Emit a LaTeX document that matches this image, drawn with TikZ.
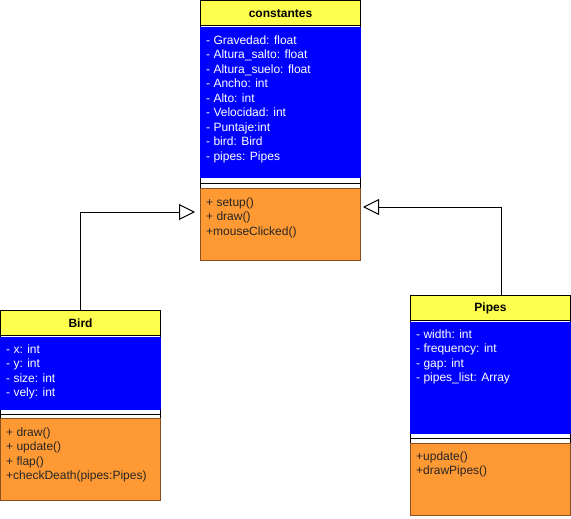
\documentclass[tikz,border=0pt]{standalone}
\usepackage{fontspec}
\setmainfont{Liberation Sans}
\usetikzlibrary{arrows.meta}
\definecolor{hdryellow}{HTML}{FFFF4D}
\definecolor{attrblue}{HTML}{0000FF}
\definecolor{opsorange}{HTML}{FF9933}
\definecolor{opsedge}{HTML}{8A4F1E}
\begin{document}
\begin{tikzpicture}[x=1pt,y=-1pt,
    outer/.style={draw=black,fill=white,line width=1pt},
    header/.style={draw=black,fill=hdryellow,line width=1pt,inner sep=0pt,
      minimum width=160pt,minimum height=25.5pt,font=\bfseries\fontsize{12pt}{14.5pt}\selectfont},
    attrfill/.style={fill=attrblue},
    sepline/.style={draw=black,line width=1pt},
    opsbox/.style={draw=opsedge,fill=opsorange,line width=1pt},
    members/.style={anchor=north west,inner sep=0pt,align=left,text=white,
      font=\fontsize{12pt}{14.5pt}\selectfont},
    ops/.style={members,text=black!85},
    inherit/.style={draw=black,line width=1pt,
      -{Triangle[open,length=16pt,width=16pt,fill=white]}}]
  \useasboundingbox (0,0) rectangle (571,519);
  % constantes
  \draw[outer] (200.5,0.5) rectangle (360.5,260);
  \fill[attrfill] (200,27) rectangle (361,178);
  \draw[sepline] (200.5,183.5) -- (360.5,183.5);
  \draw[opsbox] (200.5,188) rectangle (360.5,260);
  \node[header] (constantes) at (280.5,13.25) {constantes};
  \node[members] (constAttr) at (206,35.4) {- Gravedad: float\\- Altura\_salto: float\\- Altura\_suelo: float\\- Ancho: int\\- Alto: int\\- Velocidad: int\\- Puntaje:int\\- bird: Bird\\- pipes: Pipes};
  \node[ops] (constOps) at (206,197.5) {+ setup()\\+ draw()\\+mouseClicked()};
  % Bird
  \draw[outer] (0.5,310) rectangle (160.5,500);
  \fill[attrfill] (0,337) rectangle (161,410);
  \draw[sepline] (0.5,414) -- (160.5,414);
  \draw[opsbox] (0.5,418) rectangle (160.5,500);
  \node[header] (bird) at (80.5,323) {Bird};
  \node[members] (birdAttr) at (6,344.5) {- x: int\\- y: int\\- size: int\\- vely: int};
  \node[ops] (birdOps) at (6,427.5) {+ draw()\\+ update()\\+ flap()\\+checkDeath(pipes:Pipes)};
  % Pipes
  \draw[outer] (410.5,295) rectangle (570.5,515);
  \fill[attrfill] (410,322) rectangle (571,434);
  \draw[sepline] (410.5,438.5) -- (570.5,438.5);
  \draw[opsbox] (410.5,443) rectangle (570.5,515);
  \node[header] (pipes) at (490.5,308) {Pipes};
  \node[members] (pipesAttr) at (416,329.5) {- width: int\\- frequency: int\\- gap: int\\- pipes\_list: Array};
  \node[ops] (pipesOps) at (416,451.5) {+update()\\+drawPipes()};
  % herencia
  \coordinate (tipL) at (195,212);
  \coordinate (tipR) at (363,207);
  \draw[inherit] (bird.north) |- (tipL);
  \draw[inherit] ([xshift=10.5pt]pipes.north) |- (tipR);
\end{tikzpicture}
\end{document}
